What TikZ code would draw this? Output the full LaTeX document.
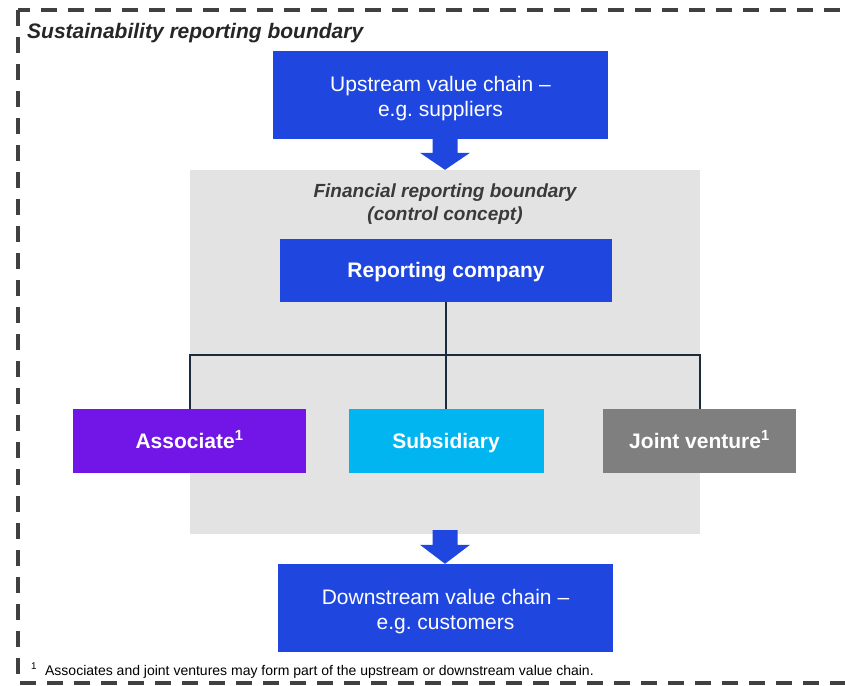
\documentclass[tikz,border=0pt]{standalone}
\usepackage{fontspec}
\setmainfont{Liberation Sans}
\usetikzlibrary{calc}
\definecolor{upblue}{HTML}{1F47E0}
\definecolor{purp}{HTML}{7216E8}
\definecolor{cyanb}{HTML}{00B5F0}
\definecolor{jvgray}{HTML}{7F7F7F}
\definecolor{bggray}{HTML}{E3E3E3}
\definecolor{treeline}{HTML}{1B2A3C}
\definecolor{framegray}{HTML}{404040}
\definecolor{txtgray}{HTML}{3A3A3A}
\frenchspacing
\newcommand\blkarrow[3]{%
  \fill[upblue] let \p1=(#1), \p2=(#2) in
   (\x1-12.5pt,\y1) -- (\x1+12.5pt,\y1) -- (\x1+12.5pt,\y2+#3) -- (\x1+25pt,\y2+#3)
   -- (\x1,\y2) -- (\x1-25pt,\y2+#3) -- (\x1-12.5pt,\y2+#3) -- cycle;}
\begin{document}
\begin{tikzpicture}[x=1pt,y=-1pt,
  chainbox/.style={fill=upblue,text=white,align=center,minimum width=335pt,minimum height=88pt,inner sep=0pt,
    font=\fontsize{21}{25}\selectfont},
  unitbox/.style={text=white,align=center,minimum height=64pt,inner sep=0pt,
    text height=16pt,text depth=2pt,
    font=\fontsize{21}{25}\selectfont\bfseries},
  treeln/.style={draw=treeline,line width=2pt},
  frame/.style={draw=framegray,line width=4pt,dash pattern=on 16pt off 11pt}]
\useasboundingbox (0,0) rectangle (845,685);
\clip (0,0) rectangle (845,685);
% outer dashed frame
\draw[frame] (18,10) rectangle (890,683);
\node[anchor=base west,font=\fontsize{21}{25}\selectfont\bfseries\itshape,text=black!85,inner sep=0pt] (title) at (27,38) {Sustainability reporting boundary};
% grey boundary
\node[fill=bggray,minimum width=510pt,minimum height=364pt,inner sep=0pt] (gray) at (445,352) {};
\node[font=\fontsize{19}{23}\selectfont\bfseries\itshape,text=txtgray,align=center,inner sep=0pt] (fin) at (445,204) {Financial reporting boundary\\(control concept)};
% value chain boxes
\node[chainbox] (up) at (440.5,95) {\rule{0pt}{23pt}Upstream value chain –\\e.g. suppliers};
\node[chainbox] (down) at (445.5,608) {\rule{0pt}{23pt}Downstream value chain –\\e.g. customers};
% reporting company and units
\node[unitbox,fill=upblue,minimum width=332pt,minimum height=63pt] (rc) at (446,270.5) {Reporting company};
\node[unitbox,fill=purp,minimum width=233pt] (assoc) at (189.5,441) {Associate\textsuperscript{1}};
\node[unitbox,fill=cyanb,minimum width=195pt] (sub) at (446,441) {Subsidiary};
\node[unitbox,fill=jvgray,minimum width=193pt] (jv) at (699.5,441) {Joint venture\textsuperscript{1}};
% tree connectors
\coordinate (hub) at (446,355);
\draw[treeln] (rc.south) -- (hub);
\draw[treeln] (assoc.north) |- (hub) -| (jv.north);
\draw[treeln] (hub) -- (sub.north);
% block arrows
\coordinate (a1s) at (up.south -| gray.north);
\blkarrow{a1s}{gray.north}{17pt}
\coordinate (a2s) at ($(gray.south)+(0,-4)$);
\blkarrow{a2s}{down.north}{19pt}
% footnote
\node[anchor=base west,font=\fontsize{14}{16}\selectfont,inner sep=0pt] (fn) at (31,675) {\textsuperscript{1}\hspace{8pt}Associates and joint ventures may form part of the upstream or downstream value chain.};
\end{tikzpicture}
\end{document}
